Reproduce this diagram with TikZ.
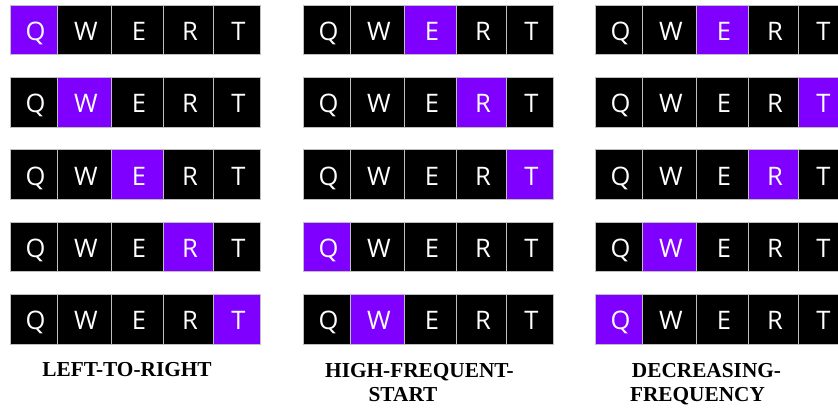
\documentclass[tikz,border=0pt]{standalone}
\usepackage{fontspec}
\setmainfont{Liberation Serif}
\newfontfamily\keyfont{Open Sans}
\definecolor{keypurple}{HTML}{7F00FF}
\definecolor{keyedge}{HTML}{BFBFBF}
\begin{document}
\begin{tikzpicture}[x=1pt,y=1pt,
  keybox/.style={draw=keyedge, line width=0.8pt, minimum height=49.5pt, inner sep=0pt, outer sep=0pt,
    anchor=north west, text=white, text height=21pt, text depth=0pt,
    font=\keyfont\fontsize{25.5}{25.5}\selectfont},
  caption/.style={font=\fontsize{21.3}{21.3}\selectfont\bfseries, anchor=base, inner sep=0pt}]
\useasboundingbox (0,0) rectangle (838,408);
\clip (0,0) rectangle (838,408);
\foreach \g/\gx/\ha/\hb/\hc/\hd/\he in {1/10/1/2/3/4/5, 2/303/3/4/5/1/2, 3/595/3/5/4/2/1}{
  \foreach \r in {1,...,5}{
    \edef\hcol{\ifcase\r\or\ha\or\hb\or\hc\or\hd\or\he\fi}
    \foreach \c/\lt/\off/\w in {1/Q/0/47, 2/W/47/54, 3/E/101/52, 4/R/153/50, 5/T/203/47}{
      \ifnum\c=\hcol\relax\def\fillc{keypurple}\else\def\fillc{black}\fi
      \node[keybox, fill=\fillc, minimum width=\w pt] (k\g-\r-\c)
        at ({\gx+\off}, {403-(\r-1)*72.4}) {\hspace*{4pt}\lt};
    }
  }
}
\node[caption] (c1) at (127, 32) {LEFT-TO-RIGHT};
\node[caption] (c2a) at (419.5, 31) {HIGH-FREQUENT-};
\node[caption] (c2b) at (403, 7) {START};
\node[caption] (c3a) at (706.5, 31) {DECREASING-};
\node[caption] (c3b) at (697.5, 7) {FREQUENCY};
\end{tikzpicture}
\end{document}
